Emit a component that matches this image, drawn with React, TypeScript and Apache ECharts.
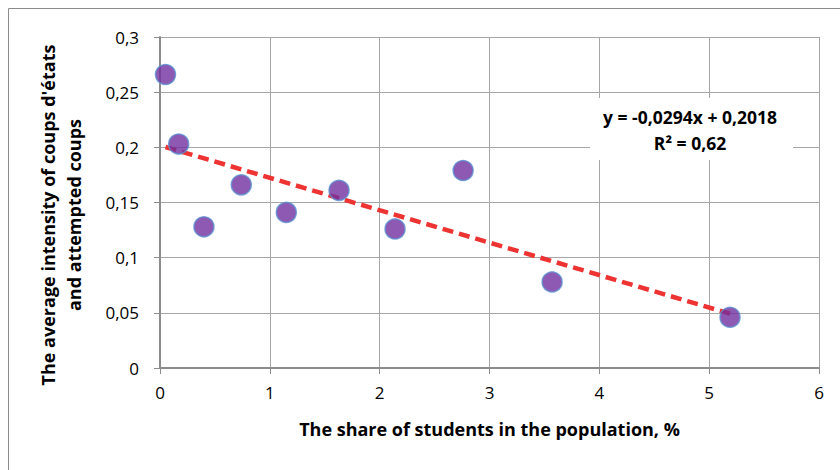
import React, { useEffect, useRef } from "react";
import * as echarts from "echarts";

const studentShare = [0.05, 0.17, 0.4, 0.74, 1.15, 1.63, 2.14, 2.76, 3.57, 5.19];
const coupIntensity = [0.266, 0.203, 0.128, 0.166, 0.141, 0.161, 0.126, 0.179, 0.078, 0.046];
const trendSlope = -0.0294;
const trendIntercept = 0.2018;
const equationText = "y = -0,0294x + 0,2018";
const r2Text = "R² = 0,62";
const xTitle = "The share of students in the population, %";
const yTitle = "The average intensity of coups d'états\nand attempted coups";

const FONT = "'Open Sans', sans-serif";

export default function App() {
  const ref = useRef<HTMLDivElement>(null);
  useEffect(() => {
    if (!ref.current) return;
    const chart = echarts.init(ref.current, undefined, { renderer: "svg" });
    const points = studentShare.map((x, i) => [x, coupIntensity[i]]);
    const xMin = Math.min(...studentShare);
    const xMax = Math.max(...studentShare);
    const trend = [
      [xMin, trendSlope * xMin + trendIntercept],
      [xMax, trendSlope * xMax + trendIntercept],
    ];
    const fmt = (v: number) => String(Math.round(v * 100) / 100).replace(".", ",");
    chart.setOption({
      animation: false,
      backgroundColor: "#fff",
      textStyle: { fontFamily: FONT },
      grid: { left: 160, top: 37, right: 21, bottom: 102, containLabel: false },
      xAxis: {
        type: "value",
        min: 0,
        max: 6,
        interval: 1,
        name: xTitle,
        nameLocation: "middle",
        nameGap: 50,
        nameTextStyle: { fontFamily: FONT, fontSize: 18, fontWeight: "bold", color: "#000", lineHeight: 22 },
        axisLine: { show: true, lineStyle: { color: "#8c8c8c", width: 2 } },
        axisTick: { show: true, length: 6, lineStyle: { color: "#8c8c8c", width: 1 } },
        axisLabel: { fontFamily: FONT, fontSize: 17, color: "#000", margin: 16 },
        splitLine: { show: true, lineStyle: { color: "#a6a6a6", width: 1 } },
      },
      yAxis: {
        type: "value",
        min: 0,
        max: 0.3,
        interval: 0.05,
        name: yTitle,
        nameLocation: "middle",
        nameGap: 73,
        nameTextStyle: {
          fontFamily: FONT,
          fontSize: 18,
          fontWeight: "bold",
          color: "#000",
          lineHeight: 26,
          padding: [0, 25, 0, 0],
        },
        axisLine: { show: true, lineStyle: { color: "#8c8c8c", width: 2 } },
        axisTick: { show: true, length: 6, lineStyle: { color: "#8c8c8c", width: 1 } },
        axisLabel: { fontFamily: FONT, fontSize: 17, color: "#000", margin: 21, formatter: fmt },
        splitLine: { show: true, lineStyle: { color: "#a6a6a6", width: 1 } },
      },
      graphic: [
        {
          type: "rect",
          shape: { x: 8.5, y: 8.5, width: 900, height: 900 },
          style: { fill: "none", stroke: "#8c8c8c", lineWidth: 1 },
          silent: true,
          z: 0,
        },
        {
          type: "rect",
          shape: { x: 590, y: 98, width: 203, height: 62 },
          style: { fill: "#fff" },
          z: 10,
        },
        {
          type: "text",
          x: 690,
          y: 117,
          style: {
            text: equationText,
            fontFamily: FONT,
            fontSize: 17.5,
            fontWeight: "bold",
            fill: "#000",
            align: "center",
            verticalAlign: "middle",
          },
          z: 11,
        },
        {
          type: "text",
          x: 690,
          y: 143,
          style: {
            text: r2Text,
            fontFamily: FONT,
            fontSize: 17.5,
            fontWeight: "bold",
            fill: "#000",
            align: "center",
            verticalAlign: "middle",
          },
          z: 11,
        },
      ],
      series: [
        {
          type: "line",
          data: trend,
          showSymbol: false,
          symbol: "none",
          lineStyle: { color: "#ee3333", width: 4.5, type: [11, 6] },
          z: 3,
        },
        {
          type: "scatter",
          data: points,
          symbolSize: 20,
          itemStyle: { color: "#7030a0", borderColor: "#5b8fd0", borderWidth: 1.5 },
          z: 4,
        },
      ],
    });
    return () => chart.dispose();
  }, []);
  return <div ref={ref} style={{ position: "absolute", left: 0, top: 0, width: 840, height: 470 }} />;
}
